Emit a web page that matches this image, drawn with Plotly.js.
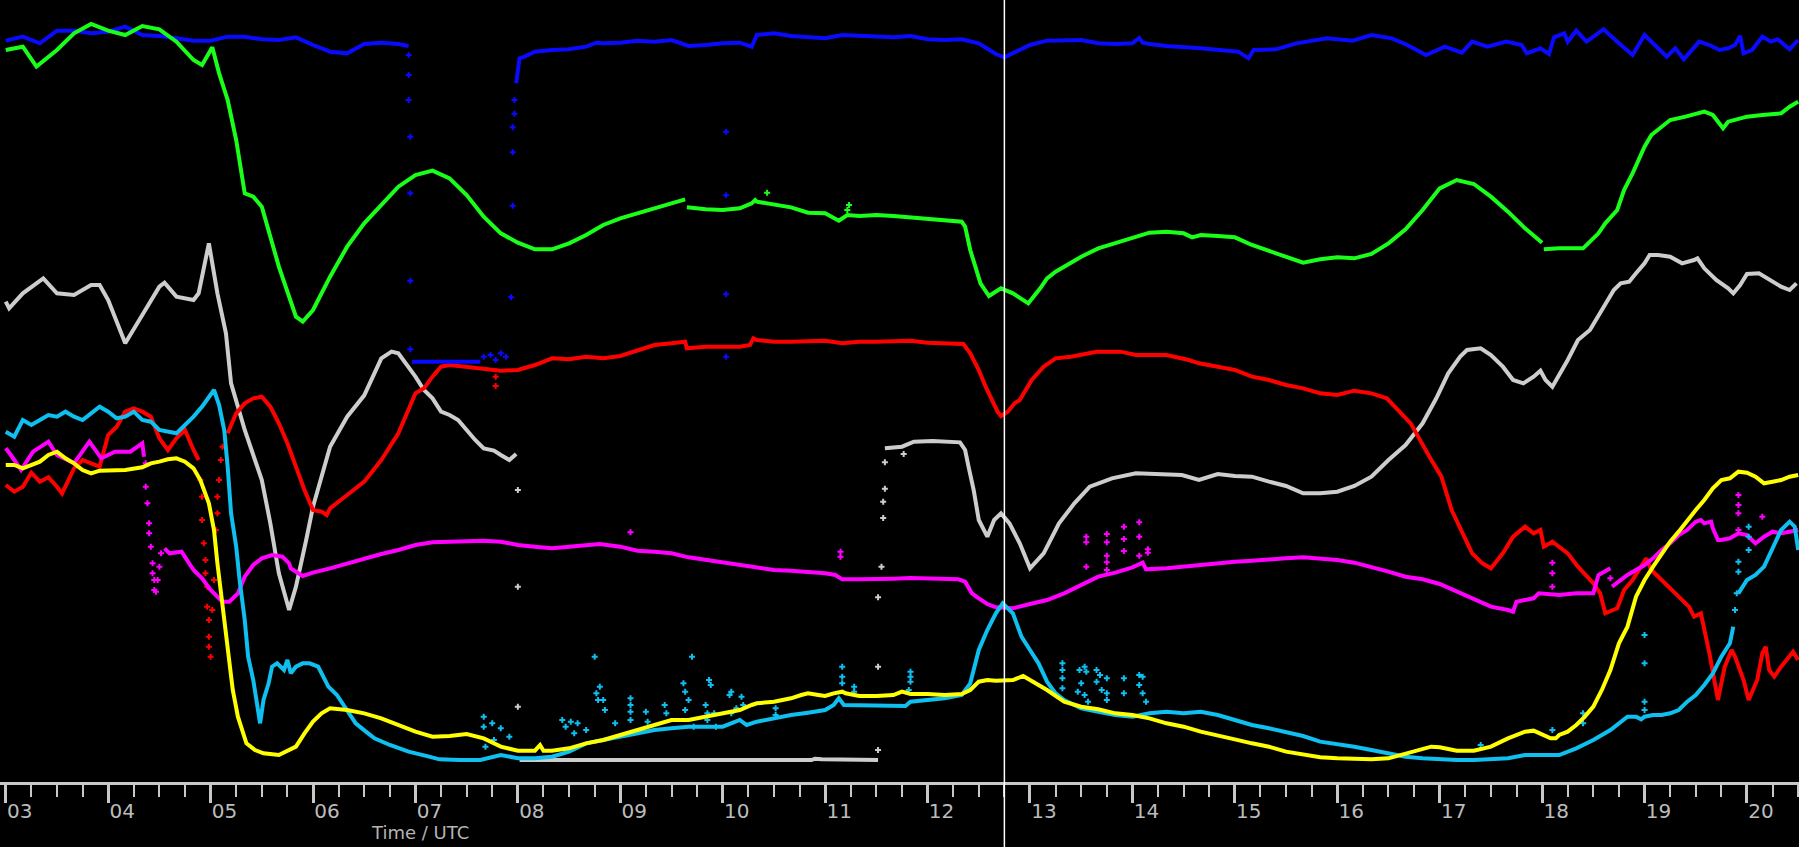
<!DOCTYPE html>
<html>
<head>
<meta charset="utf-8">
<script src="https://cdn.plot.ly/plotly-3.0.1.min.js"></script>
<style>html,body{margin:0;padding:0;background:#000;overflow:hidden;}#chart{width:1799px;height:847px;}</style>
</head>
<body>
<div id="chart"></div>
<script>
// ---- tick labels ----
const hourTicks = [3,4,5,6,7,8,9,10,11,12,13,14,15,16,17,18,19,20];
const hourLabels = ['03','04','05','06','07','08','09','10','11','12','13','14','15','16','17','18','19','20'];
const axisTitle = 'Time / UTC';
const cursorTime = '12:45';

// ---- series: [time, value], null = gap ----
const blue = [['03:00',2224],['03:10',2236],['03:20',2216],['03:30',2254],['03:40',2254],['03:50',2246],['04:00',2251],['04:10',2266],['04:20',2241],['04:30',2238],['04:40',2231],['04:50',2224],['05:00',2224],['05:10',2236],['05:20',2236],['05:30',2228],['05:40',2226],['05:50',2234],['06:00',2211],['06:10',2191],['06:20',2186],['06:30',2214],['06:40',2218],['06:50',2214],['06:56',2208],null,
['06:58',1261],['07:20',1261],['07:38',1261],null,
['07:59',2096],['08:00',2131],['08:01',2171],['08:04',2176],['08:10',2191],['08:20',2196],['08:30',2198],['08:40',2206],['08:46',2218],['08:50',2216],['09:00',2218],['09:10',2224],['09:20',2221],['09:30',2226],['09:40',2208],['09:50',2211],['10:00',2216],['10:10',2218],['10:17',2206],['10:20',2241],['10:30',2246],['10:40',2238],['10:50',2234],['11:00',2231],['11:10',2241],['11:20',2238],['11:30',2234],['11:40',2234],['11:50',2238],['12:00',2228],['12:10',2226],['12:20',2228],['12:30',2216],['12:40',2184],['12:45',2174],['12:50',2186],['13:00',2211],['13:10',2224],['13:20',2224],['13:30',2226],['13:40',2216],['13:50',2214],['14:00',2216],['14:04',2232],['14:06',2218],['14:10',2214],['14:20',2208],['14:30',2206],
['14:40',2201],['15:02',2191],['15:08',2171],['15:11',2196],['15:24',2198],['15:36',2216],['15:54',2231],['16:09',2224],['16:20',2241],['16:32',2231],['16:41',2211],['16:52',2181],['17:03',2206],['17:13',2188],['17:19',2221],['17:28',2206],['17:39',2221],['17:48',2211],['17:51',2186],['17:59',2201],['18:04',2184],['18:07',2234],['18:13',2246],['18:15',2221],['18:20',2254],['18:26',2221],['18:36',2258],['18:44',2221],['18:53',2181],['19:00',2241],['19:03',2226],['19:13',2176],['19:18',2201],['19:23',2168],['19:32',2221],['19:38',2211],['19:44',2196],['19:49',2201],['19:53',2211],['19:56',2238],['19:58',2186],['20:03',2196],['20:09',2236],['20:14',2221],['20:18',2228],['20:25',2198],['20:30',2226]];
const blueDots = [['06:56',2181],['06:56',2121],['06:56',2046],['06:57',1936],['06:57',1766],['06:57',1504],['06:57',1298],['07:40',1276],['07:44',1281],['07:47',1266],['07:50',1286],['07:53',1276],['07:56',1454],['07:57',1729],['07:57',1889],['07:57',1964],['07:58',2005],['07:58',2046],['10:02',1951],['10:02',1760],['10:02',1463],['10:02',1276]];

const green = [['03:00',2196],['03:10',2206],['03:18',2146],['03:30',2196],['03:40',2246],['03:50',2274],['04:00',2254],['04:10',2241],['04:20',2268],['04:30',2258],['04:40',2221],['04:50',2166],['04:55',2151],['05:01',2204],['05:05',2126],['05:10',2046],['05:15',1926],['05:20',1766],['05:25',1756],['05:30',1726],['05:40',1546],['05:50',1396],['05:54',1381],['06:00',1416],['06:10',1516],['06:20',1606],['06:30',1676],['06:40',1731],['06:50',1786],['07:00',1821],['07:10',1834],['07:20',1811],['07:30',1761],['07:40',1696],['07:50',1646],['08:00',1618],['08:10',1598],['08:20',1598],['08:30',1616],['08:40',1641],['08:50',1671],['09:00',1691],['09:10',1706],['09:20',1718],['09:30',1734],['09:38',1748],null,
['09:39',1724],['09:50',1718],['10:00',1716],['10:10',1721],['10:17',1736],['10:19',1746],['10:20',1741],['10:30',1731],['10:40',1724],['10:50',1708],['11:00',1706],['11:08',1684],['11:13',1701],['11:20',1698],['11:30',1701],['11:40',1698],['11:50',1694],['12:00',1691],['12:10',1686],['12:20',1681],['12:22',1666],['12:25',1596],['12:28',1546],['12:31',1496],['12:36',1458],['12:43',1481],['12:50',1466],['12:59',1436],['13:06',1481],['13:10',1511],['13:15',1531],['13:20',1546],['13:30',1576],['13:40',1601],['13:50',1616],['14:00',1634],['14:10',1648],['14:20',1651],['14:30',1646],['14:35',1634],['14:40',1641],['14:50',1638],['15:00',1634],['15:10',1611],['15:20',1594],['15:30',1574],['15:40',1558],['15:50',1568],['16:00',1574],['16:10',1571],['16:20',1584],['16:30',1616],['16:40',1658],['16:50',1716],['17:00',1781],['17:10',1806],['17:20',1794],['17:30',1756],['17:40',1711],['17:50',1661],['17:55',1641],['18:00',1618],null,
['18:01',1598],['18:10',1601],['18:20',1601],['18:24',1601],['18:33',1646],['18:37',1676],['18:44',1716],['18:48',1776],['18:53',1826],['19:00',1906],['19:04',1941],['19:15',1986],['19:24',1996],['19:35',2011],['19:40',2001],['19:46',1961],['19:49',1981],['20:00',1996],['20:09',2001],['20:20',2006],['20:25',2026],['20:30',2041]];
const greenDots = [['10:26',1768],['11:14',1731],['11:13',1716]];

const gray = [['03:00',1441],['03:02',1421],['03:10',1466],['03:20',1506],['03:22',1511],['03:30',1466],['03:40',1461],['03:50',1491],['03:55',1491],['04:00',1446],['04:10',1316],['04:20',1401],['04:30',1486],['04:33',1498],['04:40',1456],['04:50',1446],['04:53',1466],['04:59',1616],['05:04',1466],['05:09',1346],['05:12',1196],['05:16',1126],['05:20',1056],['05:26',966],['05:30',906],['05:35',776],['05:40',626],['05:46',516],['05:50',586],['05:56',726],['06:00',826],['06:10',1006],['06:20',1096],['06:30',1160],['06:40',1271],['06:46',1291],['06:50',1286],['07:00',1216],['07:05',1176],['07:10',1151],['07:15',1111],['07:20',1101],['07:25',1086],['07:30',1056],['07:35',1026],['07:40',1001],['07:46',994],['07:50',981],['07:55',966],['07:59',984],null,
['08:01',66],['09:00',66],['10:00',66],['10:52',66],['10:54',70],['10:58',68],['11:31',66],null,
['11:35',1001],['11:45',1006],['11:52',1021],['12:03',1023],['12:19',1019],['12:22',996],['12:24',946],['12:27',876],['12:30',786],['12:35',736],['12:39',786],['12:43',806],['12:48',776],['12:54',716],['13:00',641],['13:08',686],['13:17',776],['13:26',836],['13:35',886],['13:48',911],['14:02',926],['14:13',924],['14:29',921],['14:39',906],['14:50',924],['15:00',918],['15:10',916],['15:20',901],['15:30',888],['15:40',866],['15:50',866],['16:00',871],['16:10',888],['16:20',916],['16:30',966],['16:40',1011],['16:50',1076],['16:58',1151],['17:05',1226],['17:12',1276],['17:16',1296],['17:24',1301],['17:30',1281],['17:37',1246],['17:43',1206],['17:49',1196],['17:55',1216],['17:59',1234],['18:02',1206],['18:06',1186],['18:09',1211],['18:15',1266],['18:21',1326],['18:28',1356],['18:35',1416],['18:42',1476],['18:46',1496],['18:51',1501],['18:55',1526],['19:00',1556],['19:03',1581],['19:08',1581],['19:15',1576],['19:22',1556],['19:29',1566],['19:31',1571],['19:35',1541],['19:42',1506],['19:49',1481],['19:52',1466],['19:56',1491],['20:00',1524],['20:07',1526],['20:13',1508],['20:20',1486],['20:25',1476],['20:29',1496]];
const grayDots = [['08:00',876],['08:00',586],['08:00',226],['11:31',96],['11:31',346],['11:31',554],['11:33',646],['11:34',792],['11:34',841],['11:35',880],['11:35',959],['11:46',984]];

const red = [['03:00',891],['03:05',871],['03:10',886],['03:15',928],['03:20',901],['03:25',914],['03:30',886],['03:33',866],['03:40',941],['03:45',966],['03:50',956],['03:55',946],['04:00',1041],['04:05',1066],['04:10',1111],['04:15',1121],['04:20',1111],['04:25',1096],['04:30',1031],['04:35',996],['04:40',1031],['04:45',1056],['04:50',996],['04:53',966],null,
['05:10',1046],['05:15',1106],['05:20',1136],['05:25',1151],['05:30',1156],['05:35',1126],['05:40',1076],['05:45',1016],['05:50',946],['05:55',876],['06:00',816],['06:05',811],['06:08',801],['06:10',821],['06:20',861],['06:30',901],['06:40',966],['06:50',1046],['07:00',1166],['07:05',1181],['07:10',1216],['07:15',1246],['07:20',1251],['07:30',1246],['07:40',1241],['07:50',1234],['08:00',1236],['08:10',1251],['08:20',1271],['08:30',1268],['08:40',1276],['08:50',1271],['09:00',1278],['09:10',1296],['09:20',1311],['09:30',1316],['09:38',1321],['09:39',1301],['09:50',1306],['10:00',1306],['10:10',1306],['10:16',1311],['10:18',1331],['10:20',1326],['10:30',1321],['10:40',1321],['10:50',1324],['11:00',1324],['11:10',1316],['11:20',1321],['11:30',1321],['11:40',1324],['11:50',1324],['12:00',1318],['12:10',1316],['12:21',1314],['12:25',1286],['12:30',1236],['12:34',1186],['12:37',1151],['12:41',1111],['12:43',1098],['12:47',1111],['12:51',1136],['12:54',1146],['13:01',1206],['13:08',1246],['13:15',1271],['13:24',1276],['13:39',1291],['13:53',1291],['14:02',1281],['14:20',1281],['14:33',1266],['14:39',1256],['14:50',1246],['15:00',1236],['15:10',1216],['15:20',1206],['15:30',1191],['15:40',1181],['15:50',1166],['16:00',1161],['16:10',1174],['16:20',1166],['16:29',1151],['16:43',1076],['16:54',976],['17:01',916],['17:07',816],['17:14',736],['17:19',686],['17:25',656],['17:30',641],['17:37',686],['17:43',736],['17:50',766],['17:55',746],['17:59',756],['18:01',706],['18:06',721],['18:10',706],['18:15',686],['18:21',646],['18:26',616],['18:30',596],['18:34',566],['18:37',506],['18:44',521],['18:48',576],['18:53',606],['18:57',641],['19:01',671],['19:04',636],['19:08',616],['19:13',591],['19:17',571],['19:22',546],['19:26',526],['19:29',496],['19:33',506],['19:38',386],['19:41',306],['19:43',246],['19:47',346],['19:51',396],['19:53',376],['19:58',306],['20:01',246],['20:06',306],['20:09',386],['20:11',406],['20:13',336],['20:16',316],['20:20',346],['20:25',376],['20:27',391],['20:30',366]];
const redDots = [['04:54',906],['04:55',856],['04:55',786],['04:56',716],['04:57',666],['04:57',626],['04:58',586],['04:58',526],['04:59',486],['04:59',436],['04:59',406],['05:00',376],['05:01',516],['05:02',606],['05:03',756],['05:04',806],['05:04',856],['05:05',906],['05:06',966],['05:07',1006],['07:47',1216],['07:47',1188]];

const magenta = [['03:00',1001],['03:03',981],['03:09',936],['03:16',991],['03:25',1021],['03:30',981],['03:40',956],['03:49',1021],['03:56',971],['04:04',991],['04:13',991],['04:20',1016],['04:21',976],null,
['04:33',701],['04:36',686],['04:43',691],['04:50',636],['04:55',611],['05:00',576],['05:07',541],['05:11',541],['05:16',566],['05:20',616],['05:25',651],['05:30',671],['05:36',681],['05:42',676],['05:46',656],['05:47',641],['05:54',618],['06:00',628],['06:10',641],['06:20',656],['06:30',671],['06:40',684],['06:50',696],['07:00',711],['07:10',719],['07:20',721],['07:30',721],['07:40',724],['07:50',721],['08:00',711],['08:10',706],['08:20',701],['08:30',706],['08:40',711],['08:48',714],['09:00',706],['09:10',694],['09:20',691],['09:30',686],['09:40',674],['09:50',666],['10:00',658],['10:10',651],['10:20',644],['10:30',636],['10:40',634],['10:50',631],['11:00',626],['11:06',621],['11:10',608],['11:20',608],['11:30',608],['11:40',610],['11:50',612],['12:00',610],['12:10',610],['12:18',608],['12:22',601],['12:26',566],['12:30',551],['12:35',534],['12:40',524],['12:45',524],['12:50',521],['13:00',534],['13:10',546],['13:20',566],['13:30',591],['13:40',616],['13:50',628],['14:00',644],['14:06',658],['14:08',638],['14:20',641],['14:30',646],['14:39',651],['14:50',658],['15:00',661],['15:10',664],['15:20',666],['15:30',671],['15:40',674],['15:50',671],['16:00',666],['16:10',658],['16:20',646],['16:30',631],['16:40',616],['16:50',608],['17:00',594],['17:10',571],['17:20',546],['17:30',526],['17:40',516],['17:43',511],['17:45',541],['17:50',546],['17:55',551],['17:58',566],['18:10',561],['18:20',566],['18:30',566],['18:33',621],['18:40',641],null,
['18:41',586],['18:45',601],['18:50',621],['19:00',651],['19:05',671],['19:10',696],['19:15',716],['19:20',741],['19:25',756],['19:30',781],['19:33',786],['19:35',776],['19:39',781],['19:40',761],['19:43',726],['19:45',726],['19:50',731],['19:55',746],['20:00',741],['20:05',716],['20:10',736],['20:15',751],['20:20',746],['20:25',751],['20:30',756]];
const magentaDots = [['04:22',956],['04:22',886],['04:23',836],['04:24',776],['04:24',746],['04:25',706],['04:26',656],['04:26',626],['04:27',606],['04:27',576],['04:28',571],['04:29',606],['04:30',646],['04:31',686],['09:06',749],['11:09',691],['11:09',676],['13:33',736],['13:33',719],['13:33',646],['13:45',744],['13:45',719],['13:45',679],['13:45',659],['13:45',636],['13:55',766],['13:55',729],['13:55',693],['14:04',779],['14:04',736],['14:04',679],['14:09',698],['14:09',688],['18:06',658],['18:06',626],['18:06',586],['18:40',611],['19:55',861],['19:55',831],['19:55',806],['19:55',756],['20:09',796]];

const cyan = [['03:00',1051],['03:05',1036],['03:10',1086],['03:15',1071],['03:20',1086],['03:25',1101],['03:30',1096],['03:35',1111],['03:40',1096],['03:45',1086],['03:50',1106],['03:55',1126],['04:00',1111],['04:05',1091],['04:10',1096],['04:15',1111],['04:20',1086],['04:25',1081],['04:30',1056],['04:35',1051],['04:40',1046],['04:45',1071],['04:50',1096],['04:55',1126],['05:00',1161],['05:02',1176],['05:05',1131],['05:08',1056],['05:10',946],['05:12',806],['05:15',706],['05:17',606],['05:20',486],['05:22',376],['05:25',306],['05:27',246],['05:29',176],['05:31',246],['05:34',296],['05:36',346],['05:39',356],['05:43',336],['05:45',366],['05:47',326],['05:50',346],['05:54',356],['05:58',356],['06:03',346],['06:05',326],['06:09',286],['06:14',261],['06:21',206],['06:25',176],['06:31',151],['06:36',131],['06:45',111],['06:56',91],['07:08',76],['07:14',68],['07:26',66],['07:38',66],['07:50',81],['08:00',71],['08:10',71],['08:20',76],['08:30',91],['08:40',116],['08:50',126],['09:00',136],['09:10',146],['09:20',156],['09:30',161],['09:40',166],['09:50',166],['10:00',166],['10:10',186],['10:14',171],['10:20',181],['10:30',191],['10:40',201],['10:50',208],['11:00',216],['11:05',231],['11:08',251],['11:11',231],['11:20',231],['11:30',231],['11:40',231],['11:47',228],['11:50',241],['12:00',246],['12:10',251],['12:20',261],['12:25',296],['12:30',396],['12:35',456],['12:40',506],['12:44',536],['12:50',506],['12:55',436],['13:00',396],['13:05',356],['13:10',301],['13:15',266],['13:20',246],['13:30',221],['13:40',211],['13:50',201],['14:00',196],['14:10',206],['14:20',211],['14:30',206],['14:40',211],['14:50',201],['15:00',186],['15:10',171],['15:20',161],['15:30',148],['15:40',138],['15:50',121],['16:00',114],['16:10',106],['16:20',96],['16:30',86],['16:40',76],['16:50',71],['17:00',68],['17:10',66],['17:20',66],['17:30',68],['17:40',71],['17:50',81],['18:00',81],['18:10',81],['18:20',101],['18:30',126],['18:40',156],['18:50',196],['18:55',196],['18:58',188],['19:00',196],['19:05',201],['19:10',201],['19:15',206],['19:20',216],['19:25',241],['19:30',261],['19:35',291],['19:40',326],['19:45',376],['19:50',416],['19:52',466],null,
['19:55',566],['20:00',606],['20:05',621],['20:10',646],['20:15',701],['20:20',756],['20:25',781],['20:28',766],['20:30',696]];
const cyanDots = [['07:40',196],['07:40',166],['07:41',106],['07:45',176],['07:46',126],['07:50',161],['07:55',136],['08:26',186],['08:28',166],['08:31',181],['08:33',146],['08:35',176],['08:40',156],['08:45',376],['08:46',266],['08:47',246],['08:48',286],['08:50',246],['08:51',216],['08:57',176],['09:06',251],['09:06',231],['09:06',211],['09:06',186],['09:15',211],['09:16',181],['09:26',231],['09:27',206],['09:37',296],['09:38',271],['09:38',216],['09:40',246],['09:42',376],['09:43',166],['09:50',231],['09:51',186],['09:51',206],['09:52',306],['09:53',291],['09:55',206],['09:56',166],['10:04',261],['10:05',271],['10:05',206],['10:08',221],['10:11',256],['10:12',231],['10:31',221],['10:31',201],['11:10',346],['11:10',316],['11:10',296],['11:17',286],['11:17',271],['11:49',276],['11:50',331],['11:50',316],['11:50',301],['13:19',356],['13:19',336],['13:19',311],['13:19',281],['13:28',271],['13:29',336],['13:30',296],['13:32',346],['13:32',261],['13:33',331],['13:34',241],['13:39',336],['13:39',301],['13:41',321],['13:42',276],['13:45',311],['13:45',266],['13:45',246],['13:55',311],['13:55',266],['14:04',321],['14:04',291],['14:06',316],['14:06',266],['14:08',241],['17:24',111],['18:06',156],['18:24',206],['18:24',176],['19:00',441],['19:00',356],['19:00',241],['19:00',216],['19:53',516],['19:54',566],['19:55',631],['19:55',661],['20:01',766],['20:01',736],['20:01',696]];

const yellow = [['03:00',951],['03:05',951],['03:10',941],['03:15',951],['03:20',961],['03:25',981],['03:30',991],['03:35',971],['03:40',956],['03:45',936],['03:50',926],['03:55',934],['04:00',934],['04:10',936],['04:20',944],['04:25',956],['04:30',961],['04:35',968],['04:40',971],['04:45',961],['04:50',941],['04:54',906],['04:59',836],['05:02',756],['05:04',656],['05:06',566],['05:09',446],['05:11',346],['05:13',276],['05:16',196],['05:19',146],['05:21',116],['05:26',96],['05:31',86],['05:40',81],['05:50',106],['05:55',146],['06:00',181],['06:05',206],['06:10',221],['06:20',216],['06:30',206],['06:40',191],['06:50',171],['07:00',151],['07:10',136],['07:20',138],['07:30',144],['07:40',131],['07:50',106],['08:00',94],['08:10',94],['08:13',111],['08:15',94],['08:20',94],['08:30',101],['08:40',116],['08:50',126],['09:00',141],['09:10',158],['09:20',171],['09:30',186],['09:40',186],['09:50',196],['10:00',206],['10:10',216],['10:17',231],['10:20',236],['10:30',241],['10:40',251],['10:46',261],['10:50',266],['10:56',261],['11:00',258],['11:05',266],['11:10',271],['11:12',266],['11:20',258],['11:30',258],['11:40',261],['11:45',271],['11:50',264],['12:00',264],['12:10',261],['12:20',264],['12:25',276],['12:30',301],['12:35',306],['12:40',304],['12:50',306],['12:56',318],['13:00',306],['13:05',291],['13:10',276],['13:20',241],['13:30',226],['13:40',218],['13:50',206],['14:00',201],['14:10',191],['14:20',176],['14:30',166],['14:40',151],['14:50',141],['15:00',128],['15:10',116],['15:20',106],['15:30',91],['15:40',81],['15:50',74],['16:00',71],['16:10',68],['16:20',68],['16:30',71],['16:40',86],['16:50',101],['16:55',106],['17:00',104],['17:10',94],['17:20',94],['17:30',106],['17:40',131],['17:50',151],['17:55',154],['18:00',144],['18:05',131],['18:08',131],['18:10',141],['18:15',151],['18:20',171],['18:25',196],['18:30',226],['18:35',276],['18:40',336],['18:45',416],['18:50',466],['18:55',556],['19:00',606],['19:05',646],['19:10',686],['19:15',721],['19:20',751],['19:25',786],['19:30',816],['19:35',846],['19:40',881],['19:45',906],['19:50',911],['19:55',931],['20:00',928],['20:05',916],['20:10',896],['20:15',901],['20:20',906],['20:25',916],['20:30',921]];

// ---- build ----
function hrs(s){ const p = s.split(':'); return (+p[0]) + (+p[1]) / 60; }
function toXY(pairs){
  const x = [], y = [];
  pairs.forEach(p => { if (p === null) { x.push(null); y.push(null); } else { x.push(hrs(p[0])); y.push(p[1]); } });
  return {x, y};
}
const seriesList = [
  {line: gray, dots: grayDots, color: '#cdcdcd'},
  {line: red, dots: redDots, color: '#ff0000'},
  {line: magenta, dots: magentaDots, color: '#ff00ff'},
  {line: blue, dots: blueDots, color: '#0a0aff'},
  {line: green, dots: greenDots, color: '#1aff1a'},
  {line: cyan, dots: cyanDots, color: '#0fbfef'},
  {line: yellow, dots: [], color: '#ffff00'}
];
const traces = [];
seriesList.forEach(s => {
  const a = toXY(s.line);
  traces.push({type: 'scatter', mode: 'lines', x: a.x, y: a.y, connectgaps: false,
    line: {color: s.color, width: 4}, hoverinfo: 'skip'});
  if (s.dots.length) {
    const d = toXY(s.dots);
    traces.push({type: 'scatter', mode: 'markers', x: d.x, y: d.y,
      marker: {symbol: 'cross', size: 5, color: s.color}, hoverinfo: 'skip'});
  }
});

const layout = {
  width: 1799, height: 847,
  margin: {l: 0, r: 0, t: 0, b: 65, pad: 0},
  paper_bgcolor: '#000000', plot_bgcolor: '#000000',
  showlegend: false, hovermode: false,
  xaxis: {
    range: [2.944, 20.508],
    tickmode: 'array', tickvals: hourTicks, ticktext: hourLabels,
    ticks: 'outside', ticklen: 18, tickwidth: 3, tickcolor: '#c8c8c8',
    showline: true, linecolor: '#c8c8c8', linewidth: 3,
    showgrid: false, zeroline: false, fixedrange: true,
    tickfont: {family: '"DejaVu Sans", sans-serif', size: 20, color: '#bcbcbc'},
    ticklabelshift: 14, ticklabelstandoff: -9,
    minor: {dtick: 0.25, tick0: 0, ticks: 'outside', ticklen: 12, tickwidth: 2, tickcolor: '#c8c8c8', showgrid: false}
  },
  yaxis: {range: [0, 2346], visible: false, fixedrange: true, showgrid: false, zeroline: false},
  shapes: [{type: 'line', xref: 'x', yref: 'paper', x0: hrs(cursorTime), x1: hrs(cursorTime), y0: -0.1, y1: 1,
    line: {color: '#ffffff', width: 1.5}, layer: 'above'}],
  annotations: [{text: axisTitle, xref: 'paper', yref: 'paper', x: 420/1799, y: -50/782,
    xanchor: 'center', yanchor: 'middle', showarrow: false,
    font: {family: '"DejaVu Sans", sans-serif', size: 18, color: '#b4b4b4'}}]
};
Plotly.newPlot('chart', traces, layout, {staticPlot: true, displayModeBar: false});
</script>
</body>
</html>
